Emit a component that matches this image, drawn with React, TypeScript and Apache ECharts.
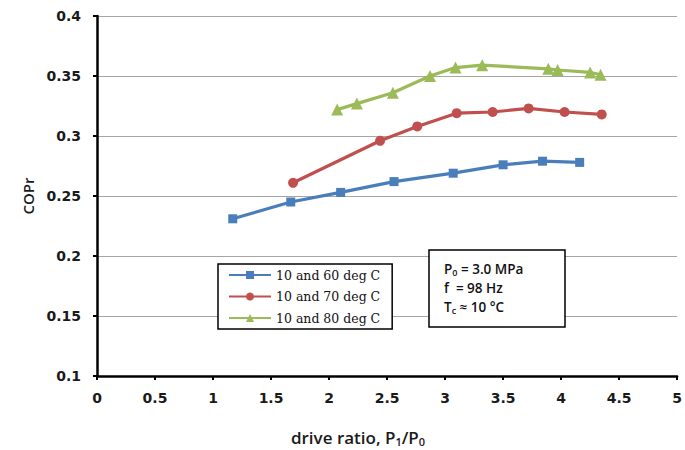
import React, { useEffect, useRef } from "react";
import * as echarts from "echarts";

// Drive ratio P1/P0 and COPr for each temperature pair
const series60X = [1.17, 1.67, 2.1, 2.56, 3.07, 3.5, 3.84, 4.16];
const series60Y = [0.231, 0.245, 0.253, 0.262, 0.269, 0.276, 0.279, 0.278];

const series70X = [1.69, 2.44, 2.76, 3.1, 3.41, 3.72, 4.03, 4.35];
const series70Y = [0.261, 0.296, 0.308, 0.319, 0.32, 0.323, 0.32, 0.318];

const series80X = [2.07, 2.24, 2.55, 2.87, 3.09, 3.32, 3.89, 3.97, 4.25, 4.34];
const series80Y = [0.322, 0.327, 0.336, 0.35, 0.357, 0.359, 0.356, 0.355, 0.353, 0.351];

const seriesNames = ["10 and 60 deg C", "10 and 70 deg C", "10 and 80 deg C"];
const xTicks = [0, 0.5, 1, 1.5, 2, 2.5, 3, 3.5, 4, 4.5, 5];
const yTicks = [0.1, 0.15, 0.2, 0.25, 0.3, 0.35, 0.4];

const zip = (xs: number[], ys: number[]) => xs.map((x, i) => [x, ys[i]]);

const sansFont = "'Open Sans', 'Noto Sans', sans-serif";
const tickFont = "'DejaVu Sans', sans-serif";
const serifFont = "'DejaVu Serif', 'Liberation Serif', serif";

export default function App() {
  const ref = useRef<HTMLDivElement>(null);

  useEffect(() => {
    if (!ref.current) return;
    const chart = echarts.init(ref.current, undefined, { renderer: "svg" });
    const colors = ["#4a7ebb", "#c0504d", "#9bbb59"];
    const symbols = ["rect", "circle", "triangle"];
    const sizes = [9, 10, 12];
    const datasets = [
      zip(series60X, series60Y),
      zip(series70X, series70Y),
      zip(series80X, series80Y),
    ];

    const subStyle = {
      fontFamily: sansFont,
      fontWeight: 600,
      fontSize: 9,
      padding: [7, 0, 0, 0],
      fill: "#111",
    };

    chart.setOption({
      animation: false,
      backgroundColor: "#ffffff",
      grid: { left: 97, right: 4, top: 16, bottom: 74 },
      xAxis: {
        type: "value",
        min: xTicks[0],
        max: xTicks[xTicks.length - 1],
        interval: 0.5,
        axisLine: { lineStyle: { color: "#000", width: 2.5 } },
        axisTick: { show: true, length: 4, lineStyle: { color: "#000", width: 2 } },
        axisLabel: {
          margin: 15,
          fontFamily: tickFont,
          fontWeight: "bold",
          fontSize: 14,
          color: "#1a1a1a",
        },
        splitLine: { show: false },
      },
      yAxis: {
        type: "value",
        min: yTicks[0],
        max: yTicks[yTicks.length - 1],
        interval: 0.05,
        name: "COPr",
        nameLocation: "middle",
        nameGap: 57,
        nameRotate: 90,
        nameTextStyle: { fontFamily: sansFont, fontWeight: 600, fontSize: 15, color: "#1a1a1a" },
        axisLine: { show: true, lineStyle: { color: "#000", width: 2.5 } },
        axisTick: { show: true, length: 4, lineStyle: { color: "#000", width: 2 } },
        axisLabel: {
          margin: 16,
          fontFamily: tickFont,
          fontWeight: "bold",
          fontSize: 14,
          color: "#1a1a1a",
          formatter: (v: number) => String(Math.round(v * 100) / 100),
        },
        splitLine: { show: true, lineStyle: { color: "#a6a6a6", width: 1 } },
      },
      legend: {
        orient: "vertical",
        left: 218,
        top: 264,
        width: 174,
        itemWidth: 42,
        itemHeight: 10,
        itemGap: 7.5,
        padding: [4, 12, 4, 10],
        borderColor: "#000",
        borderWidth: 1.5,
        backgroundColor: "#fff",
        textStyle: {
          fontFamily: serifFont,
          fontSize: 12.5,
          lineHeight: 14,
          color: "#111",
        },
        data: seriesNames,
      },
      series: datasets.map((d, i) => ({
        name: seriesNames[i],
        type: "line",
        data: d,
        color: colors[i],
        symbol: symbols[i],
        symbolSize: sizes[i],
        showAllSymbol: true,
        lineStyle: { width: 3.2, color: colors[i] },
        itemStyle: { color: colors[i] },
      })),
      graphic: [
        {
          type: "text",
          x: 358,
          y: 437,
          style: {
            text: "drive ratio, P{sub|1}/P{sub|0}",
            fontFamily: sansFont,
            fontWeight: 600,
            fontSize: 17,
            fill: "#1a1a1a",
            align: "center",
            verticalAlign: "middle",
            rich: {
              sub: { ...subStyle, fontSize: 11, padding: [8, 0, 0, 0], fill: "#1a1a1a" },
            },
          },
        },
        {
          type: "rect",
          shape: { x: 429, y: 250, width: 136, height: 77 },
          style: { fill: "#fff", stroke: "#000", lineWidth: 1.5 },
          z: 10,
        },
        {
          type: "text",
          x: 444,
          y: 259,
          z: 11,
          style: {
            text: "P{sub|0} = 3.0 MPa\nf  = 98 Hz\nT{sub|c} ≈ 10 °C",
            fontFamily: sansFont,
            fontWeight: 600,
            fontSize: 13.5,
            lineHeight: 19.2,
            fill: "#111",
            rich: { sub: subStyle },
          },
        },
      ],
    });

    return () => chart.dispose();
  }, []);

  return (
    <div
      ref={ref}
      style={{ position: "fixed", left: 0, top: 0, width: 685, height: 450 }}
    />
  );
}
